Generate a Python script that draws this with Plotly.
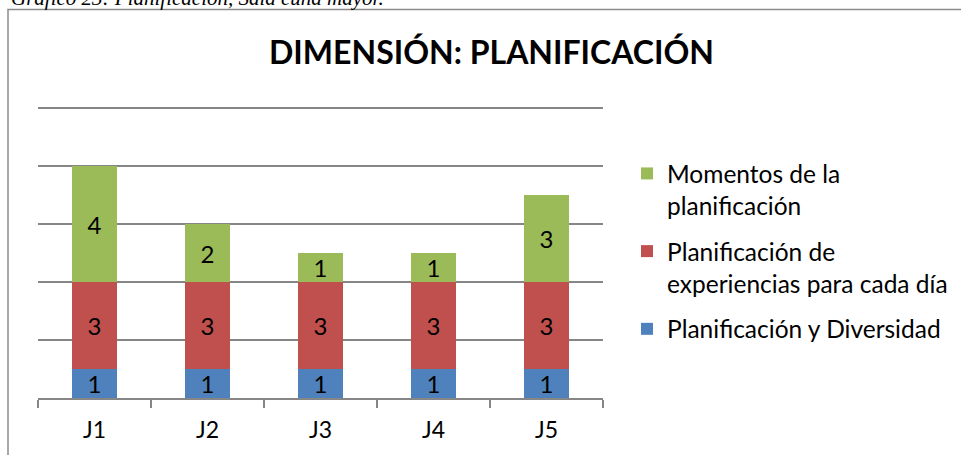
import plotly.graph_objects as go

# Stacked counts per session (J1..J5) for the "Planificación" dimension
jornadas = ["J1", "J2", "J3", "J4", "J5"]
diversidad = [1, 1, 1, 1, 1]
experiencias = [3, 3, 3, 3, 3]
momentos = [4, 2, 1, 1, 3]

series = [
    ("Planificación y Diversidad", diversidad, "#4F81BD"),
    ("Planificación de<br>experiencias para cada día", experiencias, "#C0504D"),
    ("Momentos de la<br>planificación", momentos, "#9BBB59"),
]

FONT = "Lato, 'Open Sans', sans-serif"
GRID = "#868686"

W, H = 961, 455
Y_TOP = 10.05  # a hair above the last gridline so it is drawn
ML, MR, MB = 38, 358, 57
plot_h = 290 * Y_TOP / 10
MT = H - MB - plot_h
plot_w = W - ML - MR


def px_x(p):
    return (p - ML) / plot_w


def px_y(p):
    return (H - MB - p) / plot_h


fig = go.Figure()
for i, (name, vals, color) in enumerate(series):
    fig.add_trace(go.Bar(
        x=jornadas,
        y=vals,
        name=name,
        legendgroup=f"g{i}",
        legendrank=len(series) - i,  # top segment listed first
        marker=dict(color=color, line=dict(width=0)),
        text=[str(v) for v in vals],
        textposition="inside",
        insidetextanchor="middle",
        constraintext="none",
        textangle=0,
        textfont=dict(family=FONT, size=24, color="black"),
        hoverinfo="skip",
    ))

# Chart frame (left and top edges visible)
fig.add_shape(
    type="rect", xref="paper", yref="paper",
    x0=px_x(8), x1=px_x(975), y0=px_y(470), y1=px_y(9),
    line=dict(color="#8C8C8C", width=1.5), fillcolor="rgba(0,0,0,0)",
    layer="above",
)

# Caption above the frame
fig.add_annotation(
    text="<i>Gráfico 23: Planificación, Sala cuna mayor.</i>",
    xref="paper", yref="paper", x=px_x(9), y=px_y(11),
    xanchor="left", yanchor="bottom", showarrow=False,
    font=dict(family="'Liberation Serif', 'Times New Roman', serif", size=21, color="black"),
)

fig.update_layout(
    width=W, height=H,
    margin=dict(l=ML, r=MR, t=MT, b=MB, autoexpand=False),
    paper_bgcolor="white", plot_bgcolor="white",
    barmode="stack", bargap=0.6,
    title=dict(
        text="<b>DIMENSIÓN: PLANIFICACIÓN</b>",
        x=491.5 / W, xanchor="center", xref="container",
        y=1 - 53 / H, yanchor="middle", yref="container",
        font=dict(family=FONT, size=32, color="black"),
    ),
    legend=dict(
        xref="container", yref="container",
        x=627 / W, xanchor="left",
        y=1 - 151 / H, yanchor="top",
        traceorder="grouped", valign="top",
        tracegroupgap=11,
        font=dict(family=FONT, size=24.5, color="black"),
        bgcolor="rgba(0,0,0,0)",
    ),
    xaxis=dict(
        showline=True, linecolor=GRID, linewidth=1.5,
        ticks="outside", tickson="boundaries", ticklen=8, tickcolor=GRID, tickwidth=1.5,
        showgrid=False,
        tickfont=dict(family=FONT, size=23, color="black"),
        ticklabelstandoff=11,
    ),
    yaxis=dict(
        range=[0, Y_TOP], dtick=2, tick0=0,
        showgrid=True, gridcolor=GRID, gridwidth=1.5,
        showticklabels=False, zeroline=False, showline=False, ticks="",
    ),
    showlegend=True,
)

fig.write_html("out.html")
